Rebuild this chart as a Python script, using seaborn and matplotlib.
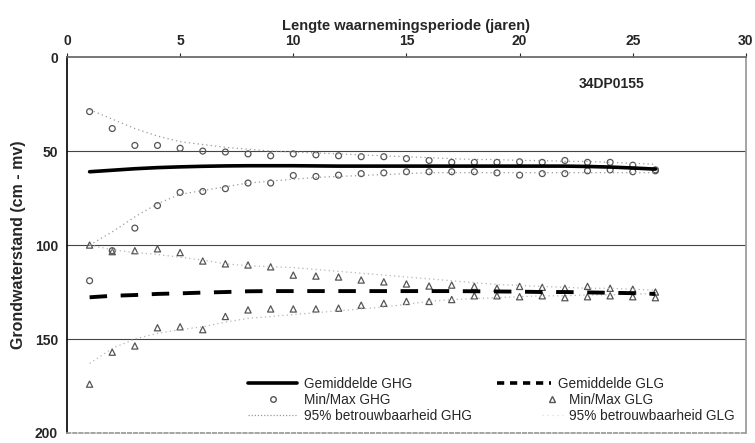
import numpy as np
import pandas as pd
import seaborn as sns
import matplotlib.pyplot as plt
from matplotlib.lines import Line2D

# waarnemingsperiode (jaren)
years = [1, 2, 3, 4, 5, 6, 7, 8, 9, 10, 11, 12, 13,
         14, 15, 16, 17, 18, 19, 20, 21, 22, 23, 24, 25, 26]

ghg_mean = [61.0, 60.2, 59.4, 58.8, 58.4, 58.1, 57.9, 57.8, 57.8, 57.8, 57.9, 58.0, 58.0,
            58.0, 58.0, 58.0, 58.0, 58.0, 58.0, 58.0, 58.0, 58.0, 58.2, 58.5, 59.0, 59.6]
ghg_min = [29, 38, 47, 47, 48.5, 50, 50.5, 51.5, 52.5, 51.5, 52, 52.5, 53,
           53, 54, 55, 56, 56, 56, 55.7, 56, 55, 56, 56, 57.5, 60]
ghg_max = [119, 103, 91, 79, 72, 71.5, 70, 67, 67, 63, 63.5, 62.8, 62,
           61.6, 61, 61, 61, 61, 61.6, 62.8, 62, 62, 60.5, 60, 61, 60.5]
ghg_lo95 = [28, 33, 38, 42, 45, 46.5, 48, 49, 50, 50.5, 51, 51.5, 52,
            52.5, 53, 53.5, 54, 54.5, 54.5, 55, 55, 55.5, 55.5, 56, 56.5, 57]
ghg_hi95 = [100, 93, 85, 78, 73, 71, 69, 67, 66, 65, 64, 63.5, 63,
            62.5, 62, 61.5, 61.5, 61.5, 61.5, 61.5, 61.5, 61.5, 61.5, 61.5, 61.5, 61.5]

glg_mean = [127.8, 127.0, 126.6, 126.0, 125.7, 125.3, 125.0, 124.6, 124.5, 124.5, 124.5, 124.5, 124.5,
            124.5, 124.5, 124.5, 124.5, 124.6, 124.7, 124.8, 125.0, 125.0, 125.2, 125.4, 125.6, 126.0]
glg_min = [100, 103.5, 103, 102, 104, 108.5, 110, 110.6, 111.6, 116, 116.5, 117, 118.6,
           119.6, 120.7, 121.8, 121.3, 122, 123, 122, 122.5, 123, 122, 123, 123.5, 125]
glg_max = [174, 157, 153.7, 144, 143.5, 145, 138, 134.5, 134, 134, 134, 133.6, 132,
           131, 130, 130, 129, 127, 127, 127.5, 127, 128, 127.5, 127, 127.5, 128]
glg_lo95 = [100, 102.5, 104, 105, 106.5, 108, 110, 111, 111.5, 112, 113, 114, 115,
            116, 117, 118, 119, 120, 121, 121.5, 122, 122.5, 123, 123, 123.5, 124]
glg_hi95 = [163, 155, 150, 147, 145, 143.5, 141, 139, 138, 137, 136, 135, 134,
            133, 131.5, 130, 129, 128.5, 128, 127.5, 127, 127, 126.5, 126.5, 126, 126]

df = pd.DataFrame({"jaar": years,
                   "ghg_mean": ghg_mean, "ghg_min": ghg_min, "ghg_max": ghg_max,
                   "ghg_lo95": ghg_lo95, "ghg_hi95": ghg_hi95,
                   "glg_mean": glg_mean, "glg_min": glg_min, "glg_max": glg_max,
                   "glg_lo95": glg_lo95, "glg_hi95": glg_hi95})

sns.set_theme(style="white")
plt.rcParams['font.family'] = ['Liberation Sans', 'DejaVu Sans']

f = plt.figure(figsize=(7.55, 4.43), dpi=100)
ax = f.add_axes([0.0887, 0.0226, 0.8993, 0.8485])

# 95% betrouwbaarheid
for col in ["ghg_lo95", "ghg_hi95"]:
    sns.lineplot(data=df, x="jaar", y=col, ax=ax, color="#9a9a9a", lw=0.9,
                 linestyle=(0, (1, 2.5)))
for col in ["glg_lo95", "glg_hi95"]:
    sns.lineplot(data=df, x="jaar", y=col, ax=ax, color="#b5b5b5", lw=0.9,
                 linestyle=(0, (1, 2.5)))

# gemiddelden
sns.lineplot(data=df, x="jaar", y="ghg_mean", ax=ax, color="black", lw=2.6)
sns.lineplot(data=df, x="jaar", y="glg_mean", ax=ax, color="black", lw=2.8,
             linestyle=(0, (4.5, 3.5)))

# min/max
for col in ["ghg_min", "ghg_max"]:
    sns.scatterplot(data=df, x="jaar", y=col, ax=ax, marker="o", s=18,
                    facecolor="none", edgecolor="#555555", linewidth=0.9)
for col in ["glg_min", "glg_max"]:
    sns.scatterplot(data=df, x="jaar", y=col, ax=ax, marker="^", s=20,
                    facecolor="none", edgecolor="#555555", linewidth=0.9)

for yv in [50, 100, 150]:
    ax.axhline(yv, color="#444444", lw=0.8, zorder=0)

ax.set_xlim(0, 30)
ax.set_ylim(200, 0)
ax.set_xticks(range(0, 31, 5))
ax.set_yticks(range(0, 201, 50))
ax.xaxis.tick_top()
ax.xaxis.set_label_position("top")
ax.tick_params(axis="both", labelsize=10, length=3, width=0.8, direction="out")
for lab in ax.get_xticklabels() + ax.get_yticklabels():
    lab.set_fontweight("bold")
ax.set_xlabel("Lengte waarnemingsperiode (jaren)", fontsize=10.5, fontweight="bold", labelpad=3)
ax.set_ylabel("Grondwaterstand (cm - mv)", fontsize=11.5, fontweight="bold", labelpad=6)

ax.spines["left"].set_color("black")
ax.spines["top"].set_color("#666666")
ax.spines["right"].set_color("#999999")
ax.spines["right"].set_linestyle((0, (1, 1)))
ax.spines["bottom"].set_color("#999999")
ax.spines["bottom"].set_linestyle((0, (2, 1.5)))
ax.spines["left"].set_linewidth(1.2)

ax.text(22.6, 14.5, "34DP0155", fontsize=10, fontweight="bold", va="center", ha="left")

h_ghg = Line2D([], [], color="black", lw=2.6)
h_ghg_mm = Line2D([], [], color="#555555", marker="o", ms=4, mfc="none", lw=0)
h_ghg_95 = Line2D([], [], color="#9a9a9a", lw=0.9, linestyle=(0, (1, 1.5)))
h_glg = Line2D([], [], color="black", lw=2.6, linestyle=(0, (2, 1.6)))
h_glg_mm = Line2D([], [], color="#555555", marker="^", ms=4, mfc="none", lw=0)
h_glg_95 = Line2D([], [], color="#dddddd", lw=0.9, linestyle=(0, (1, 3)))

leg_kw = dict(frameon=False, fontsize=9.8, handletextpad=0.5, labelspacing=0.15,
              borderpad=0, borderaxespad=0)
leg1 = ax.legend([h_ghg, h_ghg_mm, h_ghg_95],
                 ["Gemiddelde GHG", "Min/Max GHG", "95% betrouwbaarheid GHG"],
                 loc="upper left", bbox_to_anchor=(0.267, 0.15), handlelength=3.6, **leg_kw)
ax.add_artist(leg1)
leg2 = ax.legend([h_glg], ["Gemiddelde GLG"],
                 loc="upper left", bbox_to_anchor=(0.633, 0.15), handlelength=4.0, **leg_kw)
ax.add_artist(leg2)
leg3 = ax.legend([h_glg_mm, h_glg_95], ["Min/Max GLG", "95% betrouwbaarheid GLG"],
                 loc="upper left", bbox_to_anchor=(0.70, 0.107), handlelength=1.5, **leg_kw)

f.savefig("out.png", dpi=100)
